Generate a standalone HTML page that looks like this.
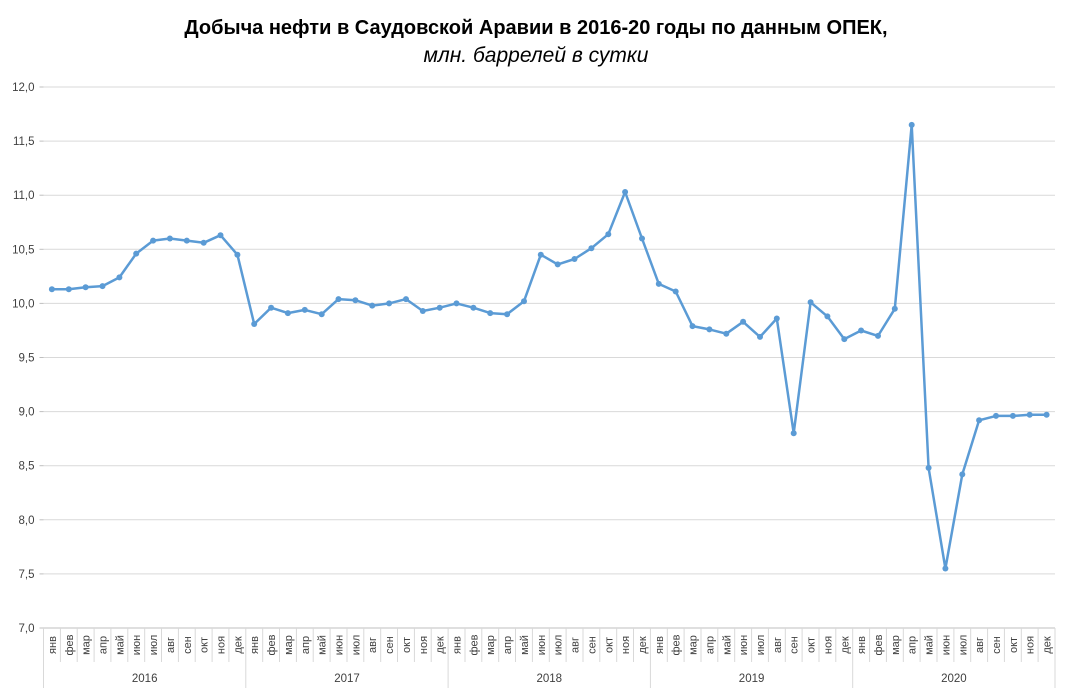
<!DOCTYPE html>
<html><head><meta charset="utf-8"><style>
body{margin:0;background:#fff;}
svg{display:block;font-family:"Liberation Sans",sans-serif;}
</style></head><body>
<svg id="c" width="1070" height="698" xmlns="http://www.w3.org/2000/svg">
<text x="536" y="34" text-anchor="middle" font-size="20" font-weight="bold" fill="#000">Добыча нефти в Саудовской Аравии в 2016-20 годы по данным ОПЕК,</text>
<text x="536" y="62" text-anchor="middle" font-size="21" font-style="italic" fill="#000">млн. баррелей в сутки</text>
<g id="g"></g>
</svg>
<script>
const d=[10.13,10.13,10.15,10.16,10.24,10.46,10.58,10.60,10.58,10.56,10.63,10.45,
9.81,9.96,9.91,9.94,9.90,10.04,10.03,9.98,10.00,10.04,9.93,9.96,
10.00,9.96,9.91,9.90,10.02,10.45,10.36,10.41,10.51,10.64,11.03,10.60,
10.18,10.11,9.79,9.76,9.72,9.83,9.69,9.86,8.80,10.01,9.88,9.67,
9.75,9.70,9.95,11.65,8.48,7.55,8.42,8.92,8.96,8.96,8.97,8.97];
const m=["янв","фев","мар","апр","май","июн","июл","авг","сен","окт","ноя","дек"];
const x0=43.5,x1=1055,w=(x1-x0)/60,yT=87,yB=628;
const Y=v=>yT+(12-v)/5*(yB-yT);
let s="";
for(let i=0;i<=10;i++){const v=7+i*0.5,y=Y(v).toFixed(1);
s+=`<line x1="${x0}" x2="${x1}" y1="${y}" y2="${y}" stroke="${i==0?'#bfbfbf':'#d9d9d9'}" stroke-width="1"/>`;
s+=`<line x1="${x0-4}" x2="${x0}" y1="${y}" y2="${y}" stroke="#bfbfbf"/>`;
s+=`<text x="${x0-9}" y="${+y+4}" text-anchor="end" font-size="11.5" fill="#404040">${v.toFixed(1).replace('.',',')}</text>`;}
for(let i=0;i<=60;i++){const x=(x0+i*w).toFixed(1);const yr=i%12==0;
s+=`<line x1="${x}" x2="${x}" y1="${yB}" y2="${yr?688:662}" stroke="#d9d9d9"/>`;}
for(let i=0;i<60;i++){const cx=x0+(i+.5)*w;
s+=`<text transform="translate(${(cx+4).toFixed(1)},645) rotate(-90)" text-anchor="middle" font-size="11" fill="#404040">${m[i%12]}</text>`;}
for(let k=0;k<5;k++){s+=`<text x="${(x0+(k*12+6)*w).toFixed(1)}" y="682" text-anchor="middle" font-size="11.5" fill="#404040">${2016+k}</text>`;}
const pts=d.map((v,i)=>[(x0+(i+.5)*w).toFixed(1),Y(v).toFixed(1)]);
s+=`<polyline fill="none" stroke="#5b9bd5" stroke-width="2.5" stroke-linejoin="round" points="${pts.map(p=>p.join(',')).join(' ')}"/>`;
pts.forEach(p=>s+=`<circle cx="${p[0]}" cy="${p[1]}" r="3" fill="#5b9bd5"/>`);
document.getElementById("g").innerHTML=s;
</script>
</body></html>
